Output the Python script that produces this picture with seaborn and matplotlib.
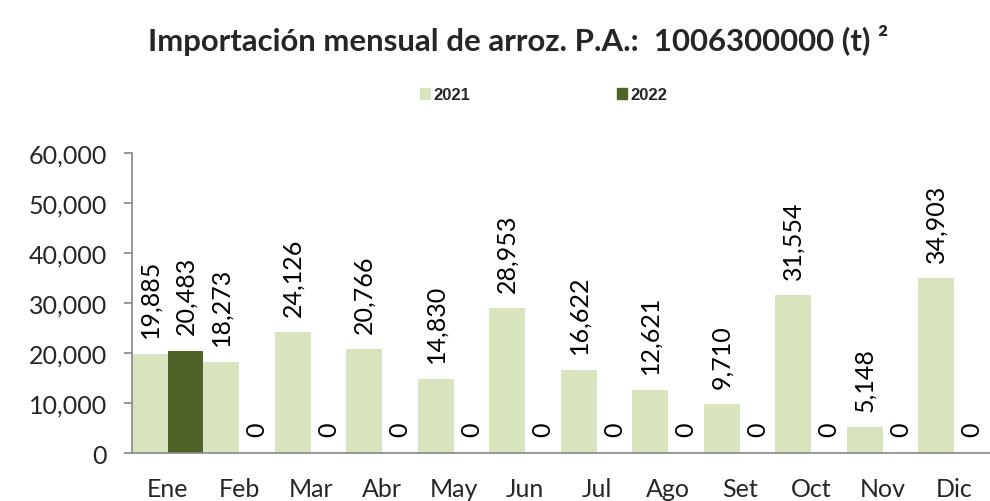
import pandas as pd
import matplotlib.pyplot as plt
import seaborn as sns

# Data
months = ["Ene", "Feb", "Mar", "Abr", "May", "Jun", "Jul", "Ago", "Set", "Oct", "Nov", "Dic"]
values_2021 = [19885, 18273, 24126, 20766, 14830, 28953, 16622, 12621, 9710, 31554, 5148, 34903]
values_2022 = [20483, 0, 0, 0, 0, 0, 0, 0, 0, 0, 0, 0]
years = ["2021", "2022"]

df = pd.DataFrame({
    "mes": months * 2,
    "anio": [years[0]] * 12 + [years[1]] * 12,
    "toneladas": values_2021 + values_2022,
})

sns.set_style("white")
plt.rcParams["font.family"] = ["Lato", "DejaVu Sans"]

fig = plt.figure(figsize=(9.9, 5.02), dpi=100)
ax = fig.add_axes([0.1333, 0.0956, 0.8667, 0.5976])

palette = {"2021": "#d7e4bd", "2022": "#4f6228"}
sns.barplot(data=df, x="mes", y="toneladas", hue="anio", order=months,
            hue_order=years, palette=palette, width=1.0, gap=0,
            saturation=1, edgecolor="none", linewidth=0, ax=ax, legend=False)

for cont in ax.containers:
    ax.bar_label(cont, labels=[f"{v:,.0f}" for v in cont.datavalues],
                 rotation=90, padding=12, fontsize=18, color="black")

ax.set_ylim(0, 60000)
ax.set_xlim(-0.5, 11.5)
ax.set_yticks(range(0, 60001, 10000))
ax.set_yticklabels([f"{v:,}" for v in range(0, 60001, 10000)], fontsize=18)
ax.set_xticks(range(12))
ax.set_xticklabels(months, fontsize=18)
ax.set_xticks([i - 0.5 for i in range(13)], minor=True)
ax.tick_params(axis="x", which="major", length=0, pad=17)
ax.tick_params(axis="x", which="minor", length=6, color="#888888", width=1.2, direction="out")
ax.tick_params(axis="y", length=6, color="#888888", width=1.2, direction="out", pad=12, left=True)
ax.set_xlabel("")
ax.set_ylabel("")
for side in ["top", "right"]:
    ax.spines[side].set_visible(False)
for side in ["left", "bottom"]:
    ax.spines[side].set_color("#888888")
    ax.spines[side].set_linewidth(1.2)
ax.grid(False)

# title, sized so it spans about 740 px like the original
title = fig.text(0.523, 0.92, "Importación mensual de arroz. P.A.:  1006300000 (t) ²",
                 ha="center", va="center", fontsize=20, fontweight="bold")
renderer = fig.canvas.get_renderer()
w = title.get_window_extent(renderer).width
title.set_fontsize(20 * 740 / w)

handles = [plt.Rectangle((0, 0), 1, 1, color=palette[y]) for y in years]
fig.legend(handles, years, loc="center", bbox_to_anchor=(0.549, 0.809), ncol=2,
           frameon=False, prop={"weight": "bold", "size": 12, "family": "Liberation Sans"},
           handlelength=0.6, handleheight=0.6, handletextpad=0.2, columnspacing=8.8)

fig.savefig("out.png", dpi=100)
